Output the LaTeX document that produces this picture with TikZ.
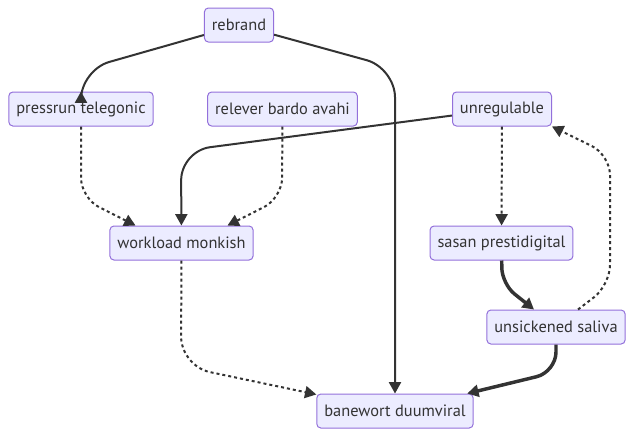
\documentclass[tikz,border=0pt]{standalone}
\usepackage{fontspec}
\setmainfont{PT Sans}
\usetikzlibrary{arrows.meta,calc}
\definecolor{ink}{HTML}{333333}
\definecolor{lilac}{HTML}{ECECFF}
\definecolor{rim}{HTML}{9370DB}
\tikzset{box/.style={draw=rim,line width=0.75pt,rounded corners=3pt,fill=lilac,text=ink,font=\fontsize{12.3}{14}\selectfont,inner xsep=5.6pt,minimum height=25.5pt}, arr/.style={-{Triangle[length=8.5pt,width=9pt]},line width=1.5pt,draw=ink}, dot/.style={arr,dash pattern=on 2.25pt off 2.25pt}, heavy/.style={arr,line width=2.6pt}}
\begin{document}
\begin{tikzpicture}[x=0.75pt,y=-0.75pt]
\useasboundingbox (0,0) rectangle (634,436);
\node[box](rb)at(239,25){rebrand};\node[box](pt)at(81,109){pressrun telegonic};\node[box](rv)at(282.5,109){relever bardo avahi};\node[box](un)at(502,109){unregulable};
\node[box](wm)at(181.5,243){workload monkish};\node[box](sp)at(501.5,243){sasan prestidigital};\node[box](us)at(556,327){unsickened saliva};\node[box](bd)at(395,411){banewort duumviral};
\draw[arr,rounded corners=22pt](rb)--(81,70)--(pt);\draw[arr,rounded corners=22pt](rb)--(395,68)--(bd);
\draw[arr,rounded corners=22pt](un)--(181,151)--(wm);\draw[dot](un)--(sp);
\draw[dot,rounded corners=15pt](pt)--(81,198)--($(wm.north)+(-46,0)$);\draw[dot,rounded corners=15pt](rv)--(282,198)--($(wm.north)+(46,0)$);
\draw[dot,rounded corners=22pt](wm)--(181,366)--(bd);
\draw[heavy,rounded corners=12pt](sp)--(502,284)--(us);\draw[heavy,rounded corners=15pt](us)--(556,372)--(bd);
\draw[dot,rounded corners=15pt]($(us.north)+(22,0)$)--(610,285)--(610,155)--(un.south east);
\end{tikzpicture}
\end{document}
